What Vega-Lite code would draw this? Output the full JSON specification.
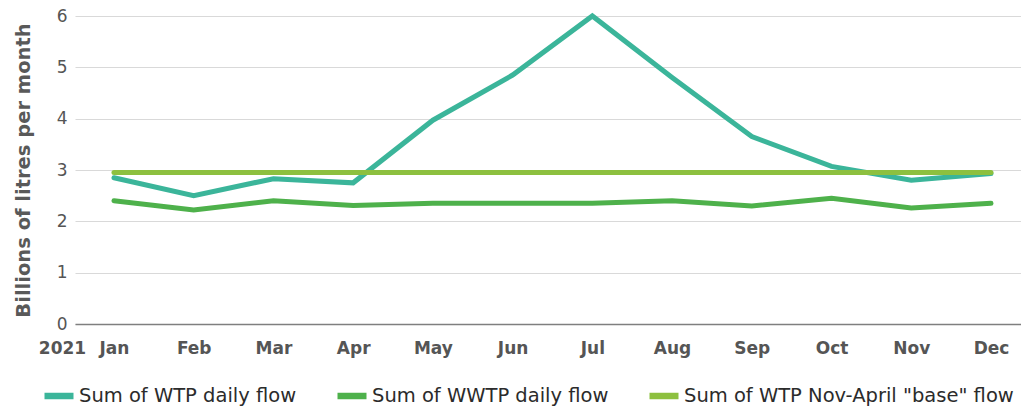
{
  "$schema": "https://vega.github.io/schema/vega-lite/v6.json",
  "width": 946,
  "height": 308,
  "autosize": {"type": "none"},
  "padding": {"left": 75, "top": 16, "right": 0, "bottom": 84},
  "config": {
    "font": "DejaVu Sans",
    "view": {"stroke": null},
    "axis": {"labelColor": "#555555", "titleColor": "#595959", "labelFontSize": 17, "titleFontSize": 17}
  },
  "data": {
    "values": [
      {"month": "Jan", "series": "Sum of WTP daily flow", "value": 2.85},
      {"month": "Feb", "series": "Sum of WTP daily flow", "value": 2.5},
      {"month": "Mar", "series": "Sum of WTP daily flow", "value": 2.83},
      {"month": "Apr", "series": "Sum of WTP daily flow", "value": 2.75},
      {"month": "May", "series": "Sum of WTP daily flow", "value": 3.97},
      {"month": "Jun", "series": "Sum of WTP daily flow", "value": 4.85},
      {"month": "Jul", "series": "Sum of WTP daily flow", "value": 6.0},
      {"month": "Aug", "series": "Sum of WTP daily flow", "value": 4.8},
      {"month": "Sep", "series": "Sum of WTP daily flow", "value": 3.65},
      {"month": "Oct", "series": "Sum of WTP daily flow", "value": 3.07},
      {"month": "Nov", "series": "Sum of WTP daily flow", "value": 2.8},
      {"month": "Dec", "series": "Sum of WTP daily flow", "value": 2.93},
      {"month": "Jan", "series": "Sum of WWTP daily flow", "value": 2.4},
      {"month": "Feb", "series": "Sum of WWTP daily flow", "value": 2.22},
      {"month": "Mar", "series": "Sum of WWTP daily flow", "value": 2.4},
      {"month": "Apr", "series": "Sum of WWTP daily flow", "value": 2.31},
      {"month": "May", "series": "Sum of WWTP daily flow", "value": 2.35},
      {"month": "Jun", "series": "Sum of WWTP daily flow", "value": 2.35},
      {"month": "Jul", "series": "Sum of WWTP daily flow", "value": 2.35},
      {"month": "Aug", "series": "Sum of WWTP daily flow", "value": 2.4},
      {"month": "Sep", "series": "Sum of WWTP daily flow", "value": 2.3},
      {"month": "Oct", "series": "Sum of WWTP daily flow", "value": 2.45},
      {"month": "Nov", "series": "Sum of WWTP daily flow", "value": 2.26},
      {"month": "Dec", "series": "Sum of WWTP daily flow", "value": 2.35},
      {"month": "Jan", "series": "Sum of WTP Nov-April \"base\" flow", "value": 2.95},
      {"month": "Feb", "series": "Sum of WTP Nov-April \"base\" flow", "value": 2.95},
      {"month": "Mar", "series": "Sum of WTP Nov-April \"base\" flow", "value": 2.95},
      {"month": "Apr", "series": "Sum of WTP Nov-April \"base\" flow", "value": 2.95},
      {"month": "May", "series": "Sum of WTP Nov-April \"base\" flow", "value": 2.95},
      {"month": "Jun", "series": "Sum of WTP Nov-April \"base\" flow", "value": 2.95},
      {"month": "Jul", "series": "Sum of WTP Nov-April \"base\" flow", "value": 2.95},
      {"month": "Aug", "series": "Sum of WTP Nov-April \"base\" flow", "value": 2.95},
      {"month": "Sep", "series": "Sum of WTP Nov-April \"base\" flow", "value": 2.95},
      {"month": "Oct", "series": "Sum of WTP Nov-April \"base\" flow", "value": 2.95},
      {"month": "Nov", "series": "Sum of WTP Nov-April \"base\" flow", "value": 2.95},
      {"month": "Dec", "series": "Sum of WTP Nov-April \"base\" flow", "value": 2.95}
    ]
  },
  "mark": {"type": "line", "strokeWidth": 5, "strokeCap": "round", "strokeJoin": "miter"},
  "encoding": {
    "x": {
      "field": "month",
      "type": "ordinal",
      "sort": ["Jan","Feb","Mar","Apr","May","Jun","Jul","Aug","Sep","Oct","Nov","Dec"],
      "scale": {"type": "point", "padding": 0.4326, "align": 0.565},
      "axis": {
        "title": "2021",
        "titleX": -13,
        "titleY": 16,
        "titleBaseline": "top",
        "titleAlign": "center",
        "titleAnchor": null,
        "titleFontWeight": "bold",
        "titleColor": "#555555",
        "labelAngle": 0,
        "labelFontWeight": "bold",
        "labelPadding": 16,
        "labelBaseline": "top",
        "ticks": false,
        "domainColor": "#7f7f7f",
        "domainWidth": 1.5,
        "grid": false
      }
    },
    "y": {
      "field": "value",
      "type": "quantitative",
      "scale": {"domain": [0, 6]},
      "axis": {
        "title": "Billions of litres per month",
        "titleFontWeight": "bold",
        "titleFontSize": 19.5,
        "titleX": -52,
        "titleBaseline": "middle",
        "values": [0,1,2,3,4,5,6],
        "ticks": false,
        "domain": false,
        "labelPadding": 8,
        "gridColor": "#d9d9d9",
        "gridWidth": 1
      }
    },
    "color": {
      "field": "series",
      "type": "nominal",
      "sort": null,
      "scale": {
        "domain": ["Sum of WTP daily flow", "Sum of WWTP daily flow", "Sum of WTP Nov-April \"base\" flow"],
        "range": ["#3bb59a", "#4eb14b", "#8dc03f"]
      },
      "legend": {
        "title": null,
        "orient": "none",
        "direction": "horizontal",
        "legendX": -34,
        "legendY": 362,
        "symbolType": "stroke",
        "symbolSize": 841,
        "symbolStrokeWidth": 6.5,
        "labelFontSize": 19.5,
        "labelColor": "#2b2b2b",
        "columnPadding": 27,
        "labelOffset": 2,
        "labelLimit": 400
      }
    }
  }
}
